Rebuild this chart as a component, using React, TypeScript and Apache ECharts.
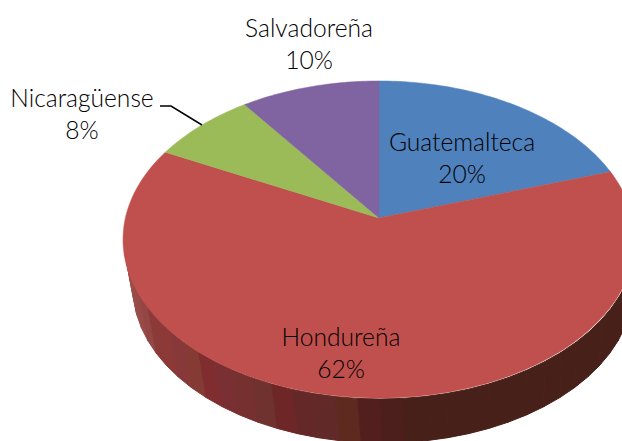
import React, { useEffect, useRef } from "react";
import * as echarts from "echarts";

const categories = ["Guatemalteca", "Hondureña", "Nicaragüense", "Salvadoreña"];
const shares = [20, 62.4, 7.6, 10];
const sliceColors = ["#4f81bd", "#c0504d", "#9bbb59", "#8064a2"];
const wallShades = [
  "#a0504c", "#a0504c", "#9c4c49", "#984a47", "#934644", "#8c3a38", "#8c3937", "#87393a", "#853a33",
  "#7f2d2f", "#7a3033", "#763030", "#6f322e", "#6e2626", "#652828", "#612a28", "#5e2a20", "#521f1e",
  "#4d1f1c", "#47201a", "#47201a", "#47201a", "#47201a", "#47201a", "#47201a", "#47201a", "#47201a",
  "#47201a", "#47201a", "#47201a", "#47201a", "#47201a", "#47201a", "#47201a", "#4a201e", "#4a201e",
];
const labelAnchors = [
  [462, 157],
  [341, 352],
  [82, 113],
  [309, 43],
];

const APEX = [379, 218];
const FACE = { a: 155.6, c: 0.1356, d: 253.6 };
const RIM_TOP = { cx: 380, cy: 240, rx: 256, ry: 159 };
const RIM_BOTTOM = { cx: 383, cy: 288, rx: 250, ry: 155 };
const FONT = '300 24.6px Lato, sans-serif';

function facePoint(theta: number): number[] {
  const u = Math.sin(theta);
  const v = Math.cos(theta);
  const w = 1 + FACE.c * v;
  return [APEX[0] + (FACE.d * u) / w, APEX[1] - (FACE.a * v) / w];
}

function rimPoint(r: typeof RIM_TOP, t: number): number[] {
  return [r.cx + r.rx * Math.cos(t), r.cy + r.ry * Math.sin(t)];
}

export default function App() {
  const ref = useRef<HTMLDivElement>(null);
  useEffect(() => {
    const chart = echarts.init(ref.current!, null, { renderer: "svg" });
    const total = shares.reduce((s, v) => s + v, 0);
    chart.setOption({
      animation: false,
      backgroundColor: "#ffffff",
      series: [
        {
          type: "custom",
          coordinateSystem: "none",
          silent: true,
          data: wallShades.map((_, i) => [i]),
          renderItem: (params: any) => {
            const i = params.dataIndex;
            const step = Math.PI / wallShades.length;
            const t0 = Math.PI - i * step;
            const t1 = t0 - step;
            return {
              type: "polygon",
              shape: {
                points: [rimPoint(RIM_TOP, t0), rimPoint(RIM_TOP, t1), rimPoint(RIM_BOTTOM, t1), rimPoint(RIM_BOTTOM, t0)],
              },
              style: { fill: wallShades[i], stroke: wallShades[i], lineWidth: 1 },
            };
          },
        },
        {
          type: "custom",
          coordinateSystem: "none",
          silent: true,
          data: shares.map((v) => [v]),
          renderItem: (params: any, api: any) => {
            const i = params.dataIndex;
            const before = shares.slice(0, i).reduce((s, v) => s + v, 0);
            const value = api.value(0);
            const start = (before / total) * Math.PI * 2;
            const end = ((before + value) / total) * Math.PI * 2;
            const pts: number[][] = [APEX];
            const n = Math.max(2, Math.ceil((end - start) / 0.02));
            for (let k = 0; k <= n; k++) pts.push(facePoint(start + ((end - start) * k) / n));
            return {
              type: "polygon",
              shape: { points: pts },
              style: { fill: sliceColors[i], stroke: sliceColors[i], lineWidth: 0.5 },
            };
          },
        },
        {
          type: "custom",
          coordinateSystem: "none",
          silent: true,
          z: 5,
          data: shares.map((v) => [v]),
          renderItem: (params: any, api: any) => {
            const i = params.dataIndex;
            return {
              type: "text",
              style: {
                text: `${categories[i]}\n${Math.round(api.value(0))}%`,
                x: labelAnchors[i][0],
                y: labelAnchors[i][1],
                align: "center",
                verticalAlign: "middle",
                font: FONT,
                lineHeight: 32,
                fill: "#000000",
              },
            };
          },
        },
      ],
      graphic: [
        {
          type: "polyline",
          z: 6,
          shape: { points: [[160, 106], [171, 106], [202, 125]] },
          style: { stroke: "#000000", lineWidth: 1.5, fill: "none" },
        },
      ],
    });
    return () => chart.dispose();
  }, []);
  return <div ref={ref} style={{ position: "fixed", left: 0, top: 0, width: 622, height: 441 }} />;
}
